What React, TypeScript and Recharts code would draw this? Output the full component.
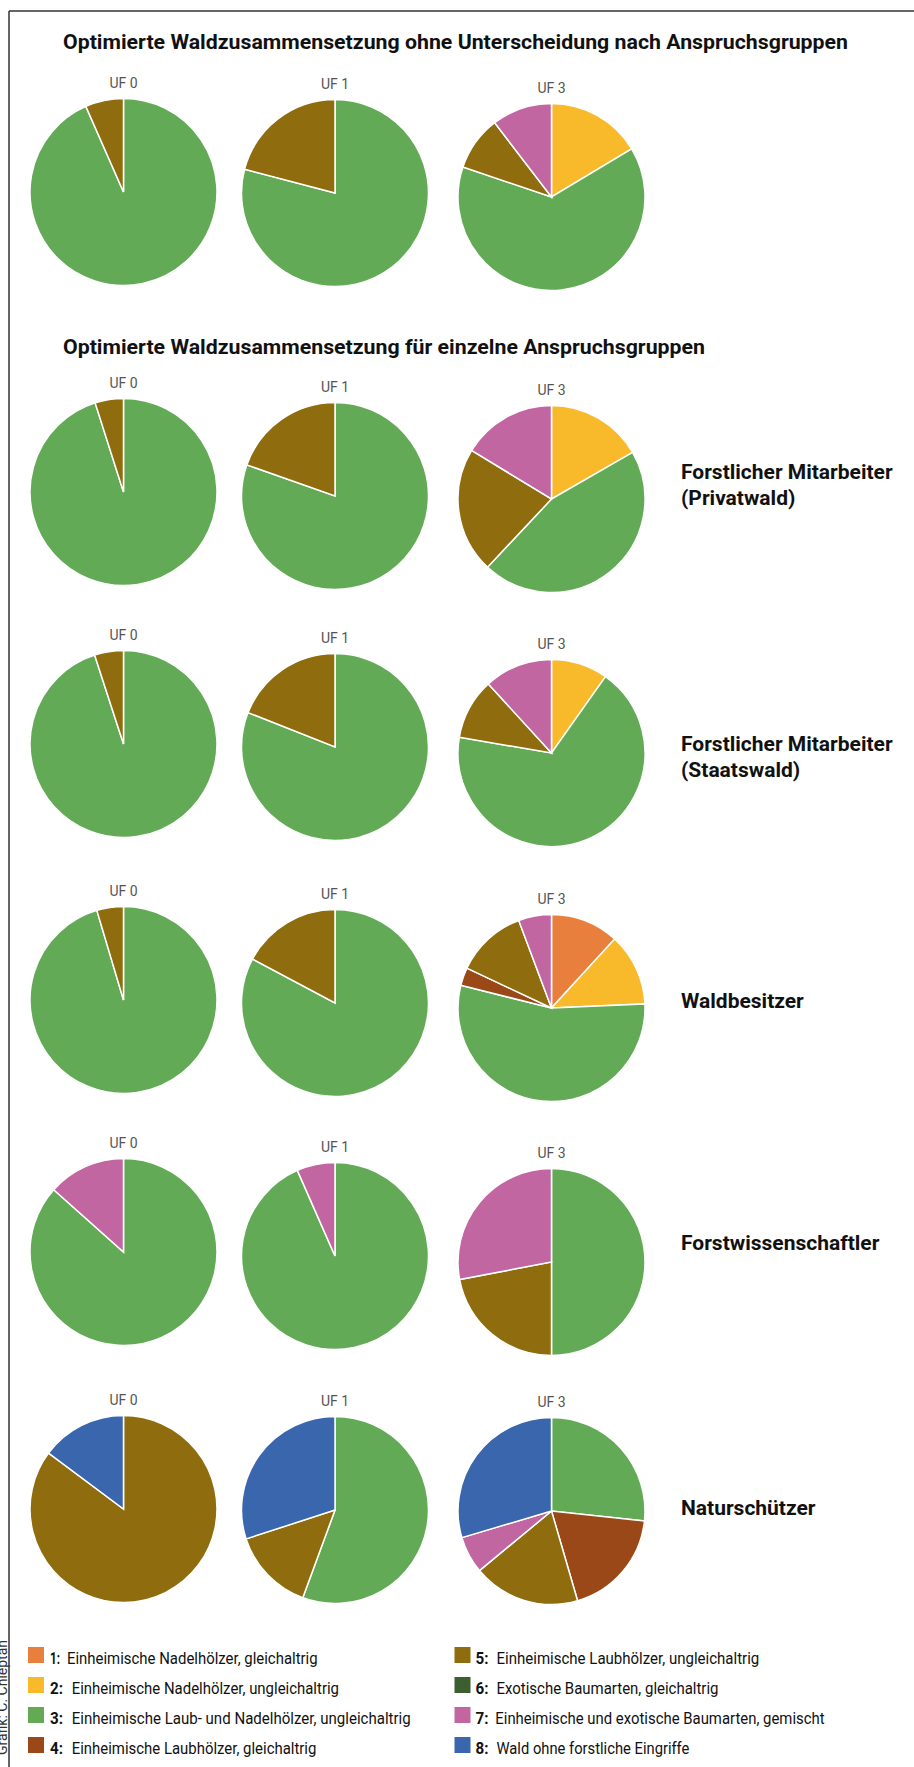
// Optimierte Waldzusammensetzung – Kreisdiagramme je Anspruchsgruppe (Recharts)

import { PieChart, Pie, Cell } from 'recharts'

// ─── Daten ───────────────────────────────────────────────────────────────────

const kategorien = [1, 2, 3, 4, 5, 6, 7, 8]

const kategorieTexte = [
  'Einheimische Nadelhölzer, gleichaltrig',
  'Einheimische Nadelhölzer, ungleichaltrig',
  'Einheimische Laub- und Nadelhölzer, ungleichaltrig',
  'Einheimische Laubhölzer, gleichaltrig',
  'Einheimische Laubhölzer, ungleichaltrig',
  'Exotische Baumarten, gleichaltrig',
  'Einheimische und exotische Baumarten, gemischt',
  'Wald ohne forstliche Eingriffe',
]

const farben = ['#E97F3C', '#F8BA2A', '#63AA56', '#9A4818', '#8F6C0E', '#3B5F2E', '#C266A2', '#3A66AE']

const ufSpalten = ['UF 0', 'UF 1', 'UF 3']

const titel = [
  'Optimierte Waldzusammensetzung ohne Unterscheidung nach Anspruchsgruppen',
  'Optimierte Waldzusammensetzung für einzelne Anspruchsgruppen',
]

const gruppen = [
  ['Forstlicher Mitarbeiter', '(Privatwald)'],
  ['Forstlicher Mitarbeiter', '(Staatswald)'],
  ['Waldbesitzer'],
  ['Forstwissenschaftler'],
  ['Naturschützer'],
]

// Anteile in % je Kategorie 1–8
const ohneUF0 = [0, 0, 93.4, 0, 6.6, 0, 0, 0]
const ohneUF1 = [0, 0, 79.1, 0, 20.9, 0, 0, 0]
const ohneUF3 = [0, 16.4, 63.8, 0, 9.4, 0, 10.4, 0]

const privatUF0 = [0, 0, 95.1, 0, 4.9, 0, 0, 0]
const privatUF1 = [0, 0, 80.4, 0, 19.6, 0, 0, 0]
const privatUF3 = [0, 16.7, 45.3, 0, 21.7, 0, 16.3, 0]

const staatUF0 = [0, 0, 95, 0, 5, 0, 0, 0]
const staatUF1 = [0, 0, 81, 0, 19, 0, 0, 0]
const staatUF3 = [0, 9.8, 67.9, 0, 10.5, 0, 11.8, 0]

const besitzerUF0 = [0, 0, 95.4, 0, 4.6, 0, 0, 0]
const besitzerUF1 = [0, 0, 82.8, 0, 17.2, 0, 0, 0]
const besitzerUF3 = [11.8, 12.5, 54.6, 3.1, 12.3, 0, 5.7, 0]

const wissUF0 = [0, 0, 86.6, 0, 0, 0, 13.4, 0]
const wissUF1 = [0, 0, 93.4, 0, 0, 0, 6.6, 0]
const wissUF3 = [0, 0, 50, 0, 22, 0, 28, 0]

const naturUF0 = [0, 0, 0, 0, 85.2, 0, 0, 14.8]
const naturUF1 = [0, 0, 55.6, 0, 14.4, 0, 0, 30]
const naturUF3 = [0, 0, 26.7, 18.8, 18.5, 0, 6.4, 29.6]

const zeilen = [
  [ohneUF0, ohneUF1, ohneUF3],
  [privatUF0, privatUF1, privatUF3],
  [staatUF0, staatUF1, staatUF3],
  [besitzerUF0, besitzerUF1, besitzerUF3],
  [wissUF0, wissUF1, wissUF3],
  [naturUF0, naturUF1, naturUF3],
]

// ─── Layout ──────────────────────────────────────────────────────────────────

const W = 914
const H = 1767
const RADIUS = 93.5
const FONT = 'Roboto, "Noto Sans", sans-serif'

const spaltenX = [123.5, 335, 551.5]
const zeilenY = [
  [192, 193, 197],
  [492, 496, 499],
  [744, 747, 753],
  [1000, 1003, 1008],
  [1252, 1256, 1262],
  [1509, 1510, 1511],
]

const titelPos = [
  { y: 48.5, len: 785 },
  { y: 354, len: 642 },
]

const gruppenY = [479, 751, 1008, 1250, 1515]

// Legende: x Kästchen, x Nummer, x Text, Textlänge (je Zeile)
const legendeSpalten = [
  { box: 28, nr: 50, text: [67, 71.7, 71.7, 71.7], len: [250.6, 267.3, 339, 244.7] },
  { box: 454.5, nr: 475.5, text: [496.5, 496.5, 495.3, 496.5], len: [262.8, 222, 329.3, 192.9] },
]

export default function App() {
  return (
    <div style={{ position: 'absolute', left: 0, top: 0, width: W, height: H, overflow: 'hidden', background: '#fff' }}>
      <div style={{ position: 'absolute', left: 0, top: 0 }}>
        <PieChart width={W} height={H} margin={{ top: 0, right: 0, bottom: 0, left: 0 }}>
          {zeilen.flatMap((zeile, z) =>
            zeile.map((werte, s) => {
              const data = werte
                .map((wert, i) => ({ kategorie: kategorien[i], wert, farbe: farben[i] }))
                .filter((d) => d.wert > 0)
              return (
                <Pie
                  key={`${z}-${s}`}
                  data={data}
                  dataKey="wert"
                  nameKey="kategorie"
                  cx={spaltenX[s]}
                  cy={zeilenY[z][s]}
                  innerRadius={0}
                  outerRadius={RADIUS}
                  startAngle={90}
                  endAngle={-270}
                  stroke="#fff"
                  strokeWidth={1.5}
                  isAnimationActive={false}
                >
                  {data.map((d) => (
                    <Cell key={d.kategorie} fill={d.farbe} />
                  ))}
                </Pie>
              )
            })
          )}
        </PieChart>
      </div>

      <svg
        width={W}
        height={H}
        style={{ position: 'absolute', left: 0, top: 0, pointerEvents: 'none', fontFamily: FONT }}
      >
        {/* Rahmen */}
        <line x1={9} y1={11} x2={W} y2={11} stroke="#333" strokeWidth={1.5} />
        <line x1={9} y1={11} x2={9} y2={H} stroke="#333" strokeWidth={1.5} />

        {/* Überschriften */}
        {titel.map((t, i) => (
          <text
            key={t}
            x={63}
            y={titelPos[i].y}
            fontSize={21}
            fontWeight={700}
            fill="#111"
            textLength={titelPos[i].len}
            lengthAdjust="spacingAndGlyphs"
          >
            {t}
          </text>
        ))}

        {/* UF-Beschriftungen */}
        {zeilenY.flatMap((ys, z) =>
          ys.map((y, s) => (
            <text key={`uf-${z}-${s}`} x={spaltenX[s]} y={y - 104} fontSize={14} fill="#555" textAnchor="middle">
              {ufSpalten[s]}
            </text>
          ))
        )}

        {/* Anspruchsgruppen */}
        {gruppen.map((zeilenText, g) =>
          zeilenText.map((t, k) => (
            <text key={`g-${g}-${k}`} x={681} y={gruppenY[g] + k * 26} fontSize={21} fontWeight={700} fill="#111">
              {t}
            </text>
          ))
        )}

        {/* Legende */}
        {kategorien.map((k, i) => {
          const sp = legendeSpalten[Math.floor(i / 4)]
          const r = i % 4
          const yBox = 1647 + r * 30
          return (
            <g key={`leg-${k}`}>
              <rect x={sp.box} y={yBox} width={16} height={16} fill={farben[i]} />
              <text
                x={sp.nr}
                y={yBox + 17}
                fontSize={17}
                fontWeight={700}
                fill="#111"
                textLength={k === 1 ? 10 : 13}
                lengthAdjust="spacingAndGlyphs"
              >
                {`${k}:`}
              </text>
              <text
                x={sp.text[r]}
                y={yBox + 17}
                fontSize={17}
                fill="#111"
                textLength={sp.len[r]}
                lengthAdjust="spacingAndGlyphs"
              >
                {kategorieTexte[i]}
              </text>
            </g>
          )
        })}

        {/* Quelle */}
        <text x={7} y={1640} fontSize={14} fill="#333" textAnchor="end" transform="rotate(-90 7 1640)">
          Grafik: C. Chieptan
        </text>
      </svg>
    </div>
  )
}
